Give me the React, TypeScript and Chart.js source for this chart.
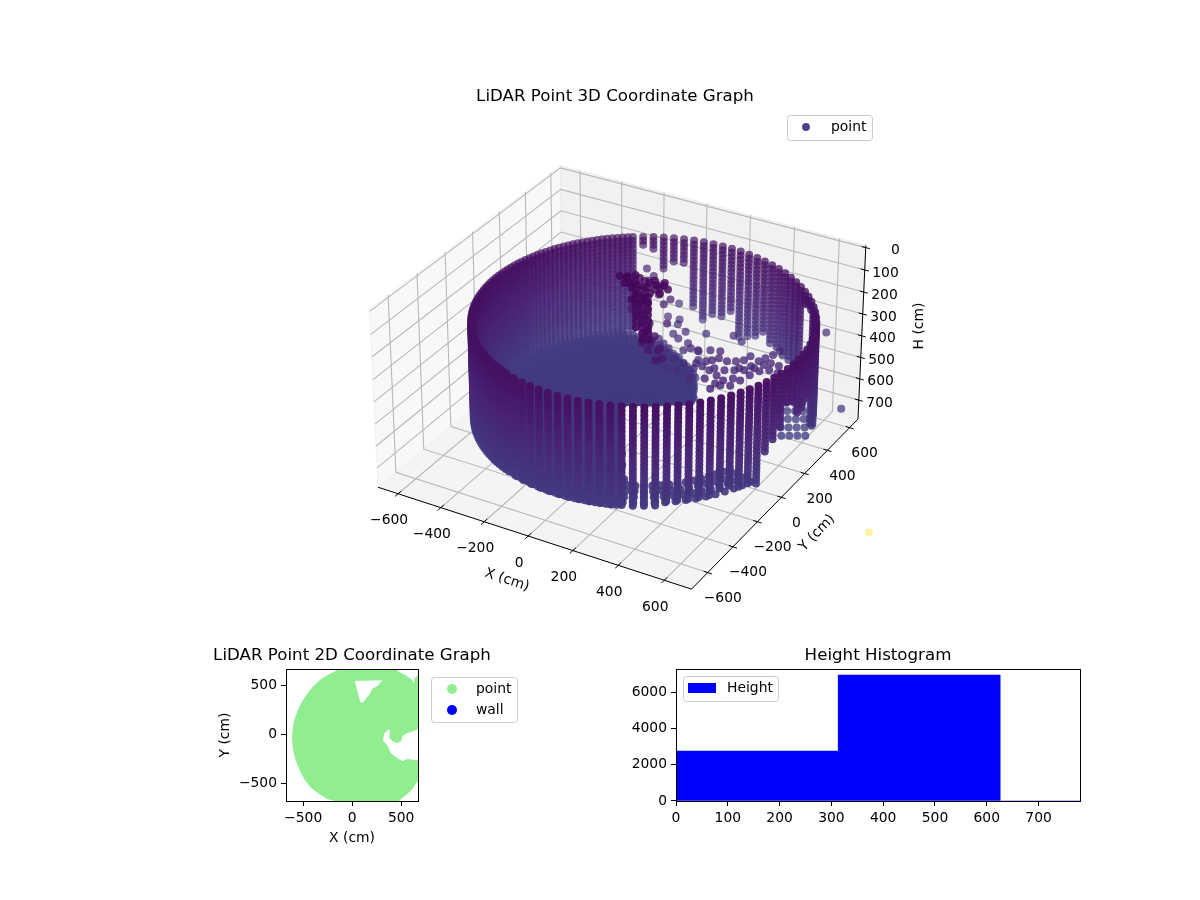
import React, { useEffect, useRef } from "react";
import { Chart, registerables } from "chart.js";

Chart.register(...registerables);

// ---------- data ----------
const title3D = "LiDAR Point 3D Coordinate Graph";
const title2D = "LiDAR Point 2D Coordinate Graph";
const titleHist = "Height Histogram";

const xTicks3D = [-600, -400, -200, 0, 200, 400, 600];
const yTicks3D = [-600, -400, -200, 0, 200, 400, 600];
const hTicks3D = [0, 100, 200, 300, 400, 500, 600, 700];

const wallCenterX = 103;
const wallCenterY = -18;
const wallRange = 672;
const floorHeight = 590;

const columnAzimuth = [30,33.6,37.2,40.8,44.4,48,51.6,55.2,58.8,62.4,66,69.6,73.2,76.8,80.4,84,87.6,91.2,94.8,98.4,102,105.6,109.2,112.8,116.4,120,123.6,127.2,130.8,134.4,138,141.6,145.2,148.8,152.4,156,159.6,163.2,166.8,170.4,174,177.6,181.2,184.8,188.4,192,195.6,199.2,202.8,206.4,210,213.6,217.2,220.8,224.4,228,231.6,235.2,238.8,242.4,246,249.6,253.2,256.8,260.4,264,267.6,271.2,274.8,278.4,282,285.6,289.2,292.8,296.4,300,303.6,307.2,310.8,314.4,318,321.6,325.2,328.8,332.4,336,339.6,343.2,346.8,350.4,354,357.6,361.2,364.8,368.4,372,375.6,379.2,382.8,386.4];
const midAzimuth = [31.8,35.4,39,42.6,46.2,49.8,53.4,57,60.6,64.2,67.8,71.4,75,78.6,82.2,85.8,89.4,93,96.6,100.2,103.8,107.4,111,114.6,118.2,121.8,125.4,129,132.6,136.2,139.8,143.4,147,150.6,154.2,157.8,161.4,165,168.6,172.2,175.8,179.4,183,186.6,190.2,193.8,197.4,201,204.6,208.2,211.8,215.4,219,222.6,226.2,229.8,233.4,237,240.6,244.2,247.8,251.4,255,258.6,262.2,265.8,269.4,273,276.6,280.2,283.8,287.4,291,294.6,298.2,301.8,305.4,309,312.6,316.2,319.8,323.4,327,330.6,334.2,337.8,341.4,345,348.6,352.2,355.8,359.4,363,366.6,370.2,373.8,377.4,381,384.6,388.2];
const wallRows = [150,168,186,204,222,240,258,276,294,312,330,348,366,384,402,420,438,456,474,492,510,528,546,564,582,600];
const columnBottom = [560,560,560,195,195,215,520,547,540,530,520,515,490,510,530,555,455,490,490,510,465,265,275,305,205,200,
  595,595,595,595,595,595,595,595,595,595,595,595,595,595,595,595,595,595,595,595,595,595,595,595,595,595,595,595,595,595,595,595,595,595,595,595,595,595,595,595,595,595,595,595,595,595,595,595,595,
  590,585,575,570,575,575,565,560,560,570,565,590,456,428,387,305,315,392,400,380,380,540,570,585,570];
const midColumnBottom = [0,0,0,0,0,0,0,0,0,0,0,0,0,0,0,0,0,0,0,0,0,0,0,0,0,0,
  595,595,595,595,595,595,595,595,595,595,595,595,595,595,595,595,595,595,595,595,595,595,595,595,595,595,595,595,595,595,595,595,595,595,595,
  0,0,0,0,0,0,0,0,0,0,0,0,0,0,0,0,0,0,0,0,0,0,0,0,0,0,0,0,0,0,0,0,0,0,0,0,0,0,0];
const floorRings = [20,40,60,80,100,120,140,160,180,200,220,240,260,280,300,320,340,360,380,400,420,440,460,480,500,520,540,560,580,600,620,640,660];
const bandRings = [520,560,600,640];
const floorStart = [999,999,999,999,999,999,999,999,196,176,165,150,140,132,125,120,115,110,106,103,100,98,97,96,95,
  95,96,97,98,100,102,104,106,108,110,112,114,116,118,120,122,125,125,122,118,114,110,105,100,95,
  91,92,93,95,96,98,100,103,106,109,112,118,124,132,141,154,168,190,214,243,293,365,477,
  480,480,480,480,480,480,480,480,480,480,480,480,480,480,999,999,999,999,999,999,999,999,999,999,999,999,999];
const floorEnd = [0,0,0,0,0,0,0,0,235,245,245,268,290,315,335,360,385,405,430,455,480,505,530,565,590,
  620,640,660,660,660,660,660,660,660,660,660,660,660,660,660,660,660,660,660,660,660,660,660,660,660,
  660,660,660,660,660,660,660,660,660,660,660,660,660,660,660,660,660,660,660,660,660,660,660,
  640,640,640,640,640,640,640,640,640,640,640,640,640,640,0,0,0,0,0,0,0,0,0,0,0,0,0];

const extraX = [245,207,169,271,288,304,343,374,397,444,452,464,479,487,316,360,401,427,459,473,491,521,539,387,410,444,277,326,368,402,436,462,484,
  244,282,331,385,411,405,501,560,623,
  503,530,558,585,535,562,590,617,566,593,621,648,598,625,653,680,629,656,684,711,
  -80,-14,8,45,98,13,-23,50,109,19,160,-94,-27,44,124,228,279,543,107,160,214,164,236,63,122,199,742,
  -222,-166,-110,-164,-14,-71,-10,75,
  -65,-34,6,43,78,93,125,153,142,23,67,99,-15,108,-20,-3,11,40,109,119,34,65,110,64,137,70,65,68,74,116,29,-38,
  56,77,97,80,101,121,104,125,145,127,148,168,151,172,192,175,196,216,219,239,243,263,
  -70,-28,12,57,78,125,136,190,-62,-64,-12,30,79,131,190,236,156,109,220,-1];
const extraY = [154,242,247,188,207,234,229,247,270,243,292,326,363,404,132,112,90,123,123,177,224,250,298,10,50,69,146,156,162,181,201,235,275,
  273,286,68,54,205,311,302,246,192,
  377,393,408,424,322,338,353,369,268,284,299,315,213,229,244,260,159,175,190,206,
  504,469,391,367,353,303,327,279,295,215,324,623,507,430,458,499,474,709,220,206,191,144,114,177,138,256,460,
  577,536,477,492,350,409,398,220,
  85,84,80,56,58,95,103,84,40,26,-3,-2,123,21,47,56,110,100,59,81,32,33,-60,-14,-44,-56,96,52,120,125,57,100,
  0,12,24,-41,-29,-17,-82,-70,-58,-123,-111,-99,-164,-152,-140,-205,-193,-181,-233,-221,-274,-262,
  218,179,148,110,58,31,-26,-42,268,176,134,94,32,-2,-58,-106,-78,-42,-132,195];
const extraH = [400,400,400,400,400,400,400,400,400,400,400,400,400,400,400,400,400,400,400,400,400,400,400,400,400,400,400,400,400,400,400,400,400,
  400,400,400,400,400,400,400,400,400,
  620,620,620,620,620,620,620,620,620,620,620,620,620,620,620,620,620,620,620,620,
  450,450,450,450,450,450,450,450,450,450,450,450,450,450,450,450,450,450,450,450,450,450,450,450,450,450,620,
  300,300,300,300,300,300,300,300,
  60,60,60,60,60,60,60,60,60,60,60,60,60,60,60,60,60,60,60,60,60,60,60,60,60,60,60,60,60,60,60,60,
  80,80,80,80,80,80,80,80,80,80,80,80,80,80,80,80,80,80,80,80,80,80,
  250,250,250,250,250,250,250,250,250,250,250,250,250,250,250,250,250,250,250,250];

const outlierX = [768];
const outlierY = [728];
const outlierH = [1354];

const footprintX = [-122,428,479,547,615,626,639,683,683,615,547,513,503,462,412,377,388,367,326,316,360,394,462,513,564,632,683,683,673,615,564,479,479,-184,-184,-252,-337,-422,-490,-541,-581,-605,-615,-605,-581,-541,-483,-405,-320,-252];
const footprintY = [670,670,636,602,551,517,575,602,58,31,7,-17,-61,-85,-71,-27,41,51,7,-61,-112,-187,-241,-272,-248,-255,-265,-435,-469,-554,-605,-673,-690,-690,-673,-656,-605,-537,-452,-350,-248,-146,-27,75,177,279,381,483,561,602];
const openingX = [27,309,258,207,183,105,82,61];
const openingY = [544,551,493,466,415,320,330,415];
const wallX: number[] = [];
const wallY: number[] = [];

const histBinCenters = [156.5, 469.5, 782.5];
const histCounts = [2750, 6940, 0];
const histXTicks = [0, 100, 200, 300, 400, 500, 600, 700];
const histYTicks = [0, 2000, 4000, 6000];
const footTicks = [-500, 0, 500];

// ---------- camera of the 3D panel ----------
const AX = { xMin: -695, xMax: 717, yMin: -726, yMax: 677, hTop: -10, hBottom: 790 };
const ELEV = (30 * Math.PI) / 180;
const AZIM = (-60 * Math.PI) / 180;
const BOX_XY = 0.595;
const BOX_Z = 0.335;
const W = [Math.cos(ELEV) * Math.cos(AZIM), Math.cos(ELEV) * Math.sin(AZIM), Math.sin(ELEV)];
const U = [-Math.sin(AZIM), Math.cos(AZIM), 0];
const V = [W[1] * U[2] - W[2] * U[1], W[2] * U[0] - W[0] * U[2], W[0] * U[1] - W[1] * U[0]];

function project(x: number, y: number, h: number) {
  const px = ((x - (AX.xMin + AX.xMax) / 2) / ((AX.xMax - AX.xMin) / 2)) * BOX_XY;
  const py = ((y - (AX.yMin + AX.yMax) / 2) / ((AX.yMax - AX.yMin) / 2)) * BOX_XY;
  const pz = (((AX.hTop + AX.hBottom) / 2 - h) / ((AX.hBottom - AX.hTop) / 2)) * BOX_Z;
  const xv = U[0] * px + U[1] * py + U[2] * pz;
  const yv = V[0] * px + V[1] * py + V[2] * pz;
  const zv = W[0] * px + W[1] * py + W[2] * pz;
  const den = 10 - zv;
  return { x: xv / den, y: yv / den, depth: zv };
}

const SCALE_X = 3011;
const SCALE_Y = 3054;
const CENTER_3D = [624.5, 368];
const CANVAS_3D = { w: 1200, h: 640, left: 30, top: 110 };

const viridisStops: [number, number, number, number][] = [
  [0, 68, 1, 84], [0.1, 72, 36, 117], [0.2, 65, 68, 135], [0.3, 53, 95, 141],
];
const COLOR_DIVISOR = 3500;

function viridis(h: number, alpha: number) {
  const t = Math.max(0, h / COLOR_DIVISOR);
  let a = viridisStops[0];
  let b = viridisStops[1];
  for (let i = 0; i < viridisStops.length - 1; i++) {
    if (t >= viridisStops[i][0]) {
      a = viridisStops[i];
      b = viridisStops[i + 1];
    }
  }
  const f = (t - a[0]) / (b[0] - a[0]);
  const c = [1, 2, 3].map((j) => Math.round(a[j] + (b[j] - a[j]) * f));
  return `rgba(${c[0]},${c[1]},${c[2]},${alpha.toFixed(3)})`;
}

function buildPoints3D() {
  const raw: { x: number; y: number; depth: number; h: number }[] = [];
  const add = (x: number, y: number, h: number) => {
    const p = project(x, y, h);
    raw.push({ x: p.x, y: p.y, depth: p.depth, h });
  };
  columnAzimuth.forEach((az, k) => {
    const ca = Math.cos((az * Math.PI) / 180);
    const sa = Math.sin((az * Math.PI) / 180);
    const cm = Math.cos((midAzimuth[k] * Math.PI) / 180);
    const sm = Math.sin((midAzimuth[k] * Math.PI) / 180);
    wallRows.forEach((h) => {
      if (h <= columnBottom[k]) add(wallCenterX + wallRange * ca, wallCenterY + wallRange * sa, h);
      if (h <= midColumnBottom[k]) add(wallCenterX + wallRange * cm, wallCenterY + wallRange * sm, h);
    });
    if (k >= 73) {
      bandRings.forEach((r) => {
        if (r >= floorStart[k] && r <= floorEnd[k]) add(wallCenterX + r * ca, wallCenterY + r * sa, floorHeight);
      });
    } else {
      floorRings.forEach((r) => {
        if (r >= floorStart[k] && r <= floorEnd[k]) {
          add(wallCenterX + r * ca, wallCenterY + r * sa, floorHeight);
          add(wallCenterX + r * cm, wallCenterY + r * sm, floorHeight);
        }
      });
    }
  });
  extraX.forEach((x, i) => add(x, extraY[i], extraH[i]));
  raw.sort((a, b) => a.depth - b.depth);
  const lo = raw[0].depth;
  const hi = raw[raw.length - 1].depth;
  return {
    data: raw.map((p) => ({ x: p.x, y: p.y })),
    colors: raw.map((p) => viridis(p.h, 0.62 + (0.38 * (p.depth - lo)) / (hi - lo))),
  };
}

function segs(list: [number, number, number][][]) {
  const out: { x: number; y: number }[] = [];
  list.forEach((line) => {
    line.forEach(([x, y, h]) => {
      const p = project(x, y, h);
      out.push({ x: p.x, y: p.y });
    });
    out.push({ x: NaN, y: NaN });
  });
  return out;
}

const tickText = (v: number) => String(v).replace("-", "\u2212");
const FONT = "'DejaVu Sans'";
const TICK_PX = 13.89;
const TITLE_PX = 16.67;

type LegendItem = { label: string; kind: "dot" | "patch"; color: string };

function drawLegend(ctx: CanvasRenderingContext2D, box: number[], markerX: number, textX: number, rows: number[], items: LegendItem[], dot = 4) {
  ctx.save();
  ctx.beginPath();
  ctx.roundRect(box[0] + 0.5, box[1] + 0.5, box[2] - box[0], box[3] - box[1], 3);
  ctx.fillStyle = "rgba(255,255,255,0.8)";
  ctx.fill();
  ctx.strokeStyle = "#cccccc";
  ctx.lineWidth = 1;
  ctx.stroke();
  items.forEach((it, i) => {
    ctx.fillStyle = it.color;
    if (it.kind === "dot") {
      ctx.beginPath();
      ctx.arc(markerX, rows[i], dot, 0, Math.PI * 2);
      ctx.fill();
    } else {
      ctx.fillRect(markerX - 14, rows[i] - 5, 28, 10);
    }
    ctx.fillStyle = "#000";
    ctx.font = `${TICK_PX}px ${FONT}`;
    ctx.textAlign = "left";
    ctx.textBaseline = "middle";
    ctx.fillText(it.label, textX, rows[i]);
  });
  ctx.restore();
}

function make3D(canvas: HTMLCanvasElement) {
  const { xMin, xMax, yMin, yMax, hTop, hBottom } = AX;
  const grid: [number, number, number][][] = [];
  xTicks3D.forEach((x) => grid.push([[x, yMin, hBottom], [x, yMax, hBottom], [x, yMax, hTop]]));
  yTicks3D.forEach((y) => grid.push([[xMax, y, hBottom], [xMin, y, hBottom], [xMin, y, hTop]]));
  hTicks3D.forEach((h) => grid.push([[xMin, yMin, h], [xMin, yMax, h], [xMax, yMax, h]]));
  const axisLines: [number, number, number][][] = [
    [[xMin, yMin, hBottom], [xMax, yMin, hBottom], [xMax, yMax, hBottom], [xMax, yMax, hTop]],
  ];
  xTicks3D.forEach((x) => axisLines.push([[x, yMin - 22, hBottom], [x, yMin + 22, hBottom]]));
  yTicks3D.forEach((y) => axisLines.push([[xMax - 18, y, hBottom], [xMax + 18, y, hBottom]]));
  hTicks3D.forEach((h) => axisLines.push([[xMax - 18, yMax, h], [xMax + 18, yMax, h]]));

  const pts = buildPoints3D();
  const outlier = outlierX.map((x, i) => project(x, outlierY[i], outlierH[i]));

  const panes: { color: string; edge: string; corners: [number, number, number][] }[] = [
    { color: "#f8f8f8", edge: "#f1f1f1", corners: [[xMin, yMin, hBottom], [xMin, yMax, hBottom], [xMin, yMax, hTop], [xMin, yMin, hTop]] },
    { color: "#f1f1f1", edge: "#ebebeb", corners: [[xMin, yMax, hBottom], [xMax, yMax, hBottom], [xMax, yMax, hTop], [xMin, yMax, hTop]] },
    { color: "#f4f4f4", edge: "#eeeeee", corners: [[xMin, yMin, hBottom], [xMax, yMin, hBottom], [xMax, yMax, hBottom], [xMin, yMax, hBottom]] },
  ];

  const paneAndTextPlugin = {
    id: "panel3d",
    beforeDatasetsDraw(chart: any) {
      const { ctx, scales } = chart;
      ctx.save();
      panes.forEach((pane) => {
        ctx.beginPath();
        pane.corners.forEach(([x, y, h], i) => {
          const p = project(x, y, h);
          const sx = scales.x.getPixelForValue(p.x);
          const sy = scales.y.getPixelForValue(p.y);
          if (i === 0) ctx.moveTo(sx, sy);
          else ctx.lineTo(sx, sy);
        });
        ctx.closePath();
        ctx.fillStyle = pane.color;
        ctx.fill();
        ctx.strokeStyle = pane.edge;
        ctx.lineWidth = 1;
        ctx.stroke();
      });
      ctx.restore();
    },
    afterDatasetsDraw(chart: any) {
      const { ctx, scales } = chart;
      ctx.save();
      ctx.fillStyle = "#000";
      ctx.font = `${TICK_PX}px ${FONT}`;
      ctx.textBaseline = "middle";
      const at = (x: number, y: number, h: number) => {
        const p = project(x, y, h);
        return [scales.x.getPixelForValue(p.x), scales.y.getPixelForValue(p.y)];
      };
      ctx.textAlign = "center";
      xTicks3D.forEach((v) => {
        const [sx, sy] = at(v, yMin, hBottom);
        ctx.fillText(tickText(v), sx - 9, sy + 27);
      });
      yTicks3D.forEach((v) => {
        const [sx, sy] = at(xMax, v, hBottom);
        ctx.fillText(tickText(v), sx + 15, sy + 26);
      });
      ctx.textAlign = "right";
      hTicks3D.forEach((v) => {
        const [sx, sy] = at(xMax, yMax, v);
        ctx.fillText(tickText(v), sx + 34, sy + 3);
      });
      const rotated = (text: string, x: number, y: number, deg: number) => {
        ctx.save();
        ctx.translate(x, y);
        ctx.rotate((deg * Math.PI) / 180);
        ctx.textAlign = "center";
        ctx.fillText(text, 0, 0);
        ctx.restore();
      };
      rotated("X (cm)", 507, 580, 18.5);
      rotated("Y (cm)", 817, 533, -46);
      rotated("H (cm)", 919, 326, -90);
      ctx.restore();
      drawLegend(ctx, [787, 115, 872, 140], 806, 831, [127], [
        { label: "point", kind: "dot", color: "rgba(68,53,127,0.95)" },
      ], 3.9);
    },
  };

  return new Chart(canvas, {
    type: "scatter",
    data: {
      datasets: [
        { label: "point", data: pts.data, pointBackgroundColor: pts.colors, pointBorderWidth: 0, pointRadius: 4, order: 1 } as any,
        { label: "outlier", data: outlier.map((p) => ({ x: p.x, y: p.y })), pointBackgroundColor: "rgba(253,231,37,0.42)", pointBorderWidth: 0, pointRadius: 3.9, order: 0 } as any,
        { label: "axes", data: segs(axisLines), showLine: true, borderColor: "#000", borderWidth: 1, pointRadius: 0, spanGaps: false, order: 2 } as any,
        { label: "grid", data: segs(grid), showLine: true, borderColor: "#b8b8b8", borderWidth: 1.1, pointRadius: 0, spanGaps: false, order: 3 } as any,
      ],
    },
    options: {
      animation: false,
      responsive: false,
      layout: { padding: { left: CANVAS_3D.left } },
      plugins: {
        legend: { display: false },
        tooltip: { enabled: false },
        title: { display: true, text: title3D, color: "#000", font: { family: "DejaVu Sans", size: TITLE_PX, weight: "normal", lineHeight: 1.2 }, padding: { top: 87, bottom: 3 } },
      },
      scales: {
        x: { type: "linear", display: false, min: (CANVAS_3D.left - CENTER_3D[0]) / SCALE_X, max: (CANVAS_3D.w - CENTER_3D[0]) / SCALE_X },
        y: { type: "linear", display: false, min: (CENTER_3D[1] - CANVAS_3D.h) / SCALE_Y, max: (CENTER_3D[1] - CANVAS_3D.top) / SCALE_Y },
      },
    } as any,
    plugins: [paneAndTextPlugin as any],
  });
}

const frame = {
  id: "frame",
  afterDatasetsDraw(chart: any) {
    const { ctx, chartArea: a } = chart;
    ctx.save();
    ctx.strokeStyle = "#000";
    ctx.lineWidth = 1;
    ctx.strokeRect(Math.round(a.left) + 0.5, Math.round(a.top) + 0.5, Math.round(a.right - a.left), Math.round(a.bottom - a.top));
    ctx.restore();
  },
};

function axisOpts(ticks: number[], min: number, max: number, extra: any) {
  return {
    type: "linear",
    min,
    max,
    grid: { offset: false, drawOnChartArea: false, drawTicks: true, tickLength: 5, tickColor: "#000", tickWidth: 1 },
    border: { display: false },
    afterBuildTicks: (s: any) => {
      s.ticks = ticks.map((value) => ({ value }));
    },
    ticks: { color: "#000", font: { family: "DejaVu Sans", size: TICK_PX }, padding: 4, maxRotation: 0, autoSkip: false, callback: (v: number) => tickText(v) },
    ...extra,
  };
}

function spacerAxis(width: number) {
  return {
    type: "linear",
    axis: "y",
    position: "right",
    display: true,
    grid: { display: false, drawTicks: false },
    border: { display: false },
    ticks: { display: false },
    afterFit: (s: any) => {
      s.width = width;
    },
  };
}

function make2D(canvas: HTMLCanvasElement) {
  const polygons = {
    id: "footprint",
    beforeDatasetsDraw(chart: any) {
      const { ctx, scales, chartArea: a } = chart;
      ctx.save();
      ctx.beginPath();
      ctx.rect(a.left, a.top, a.right - a.left, a.bottom - a.top);
      ctx.clip();
      const fill = (xs: number[], ys: number[], color: string) => {
        ctx.beginPath();
        xs.forEach((x, i) => {
          const sx = scales.x.getPixelForValue(x);
          const sy = scales.y.getPixelForValue(ys[i]);
          if (i === 0) ctx.moveTo(sx, sy);
          else ctx.lineTo(sx, sy);
        });
        ctx.closePath();
        ctx.fillStyle = color;
        ctx.fill();
      };
      fill(footprintX, footprintY, "#90ee90");
      fill(openingX, openingY, "#ffffff");
      ctx.restore();
    },
    afterDraw(chart: any) {
      drawLegend(chart.ctx, [431 - 182, 677 - 640, 517 - 182, 722 - 640], 452 - 182, 476 - 182, [689 - 640, 710 - 640], [
        { label: "point", kind: "dot", color: "#90ee90" },
        { label: "wall", kind: "dot", color: "#0000ff" },
      ], 5);
    },
  };
  return new Chart(canvas, {
    type: "scatter",
    data: {
      datasets: [
        { label: "point", data: footprintX.map((x, i) => ({ x, y: footprintY[i] })), pointRadius: 0, pointBackgroundColor: "#90ee90" },
        { label: "wall", data: wallX.map((x, i) => ({ x, y: wallY[i] })), pointRadius: 5, pointBackgroundColor: "#0000ff" },
      ],
    },
    options: {
      animation: false,
      responsive: false,
      layout: { padding: 0 },
      plugins: {
        legend: { display: false },
        tooltip: { enabled: false },
        title: { display: true, text: title2D, color: "#000", font: { family: "DejaVu Sans", size: TITLE_PX, weight: "normal", lineHeight: 1.2 }, padding: { top: 6, bottom: 3 } },
      },
      scales: {
        x: axisOpts(footTicks, -675, 672, {
          afterFit: (s: any) => { s.height = 46; },
          title: { display: true, text: "X (cm)", color: "#000", font: { family: "DejaVu Sans", size: TICK_PX }, padding: { top: 0, bottom: 0 } },
        }),
        y: axisOpts(footTicks, -675, 665, {
          afterFit: (s: any) => { s.width = 104; },
          title: { display: true, text: "Y (cm)", color: "#000", font: { family: "DejaVu Sans", size: TICK_PX }, padding: { top: 35, bottom: 0 } },
        }),
        spacer: spacerAxis(104),
      },
    } as any,
    plugins: [polygons as any, frame as any],
  });
}

function makeHist(canvas: HTMLCanvasElement) {
  const legend = {
    id: "histLegend",
    afterDraw(chart: any) {
      drawLegend(chart.ctx, [683 - 620, 676 - 640, 778 - 620, 701 - 640], 702 - 620, 727 - 620, [688 - 640], [
        { label: "Height", kind: "patch", color: "#0000ff" },
      ]);
    },
  };
  return new Chart(canvas, {
    type: "bar",
    data: {
      datasets: [
        { label: "Height", data: histBinCenters.map((x, i) => ({ x, y: histCounts[i] })), backgroundColor: "#0000ff", barThickness: 162, borderWidth: 0 } as any,
      ],
    },
    options: {
      animation: false,
      responsive: false,
      layout: { padding: 0 },
      plugins: {
        legend: { display: false },
        tooltip: { enabled: false },
        title: { display: true, text: titleHist, color: "#000", font: { family: "DejaVu Sans", size: TITLE_PX, weight: "normal", lineHeight: 1.2 }, padding: { top: 6, bottom: 3 } },
      },
      scales: {
        x: axisOpts(histXTicks, 0, 780, { offset: false, afterFit: (s: any) => { s.height = 49; } }),
        y: axisOpts(histYTicks, 0, 7270, { afterFit: (s: any) => { s.width = 56; } }),
        spacer: spacerAxis(56),
      },
    } as any,
    plugins: [frame as any, legend as any],
  });
}

export default function App() {
  const ref3D = useRef<HTMLCanvasElement>(null);
  const ref2D = useRef<HTMLCanvasElement>(null);
  const refHist = useRef<HTMLCanvasElement>(null);
  useEffect(() => {
    const charts = [make3D(ref3D.current!), make2D(ref2D.current!), makeHist(refHist.current!)];
    return () => charts.forEach((c) => c.destroy());
  }, []);
  const place = (left: number, top: number): React.CSSProperties => ({ position: "absolute", left, top });
  return (
    <div style={{ position: "absolute", left: 0, top: 0, width: 1200, height: 900, overflow: "hidden", background: "#fff" }}>
      <canvas ref={ref3D} width={CANVAS_3D.w} height={CANVAS_3D.h} style={place(0, 0)} />
      <canvas ref={ref2D} width={340} height={207} style={place(182, 640)} />
      <canvas ref={refHist} width={516} height={210} style={place(620, 640)} />
    </div>
  );
}
